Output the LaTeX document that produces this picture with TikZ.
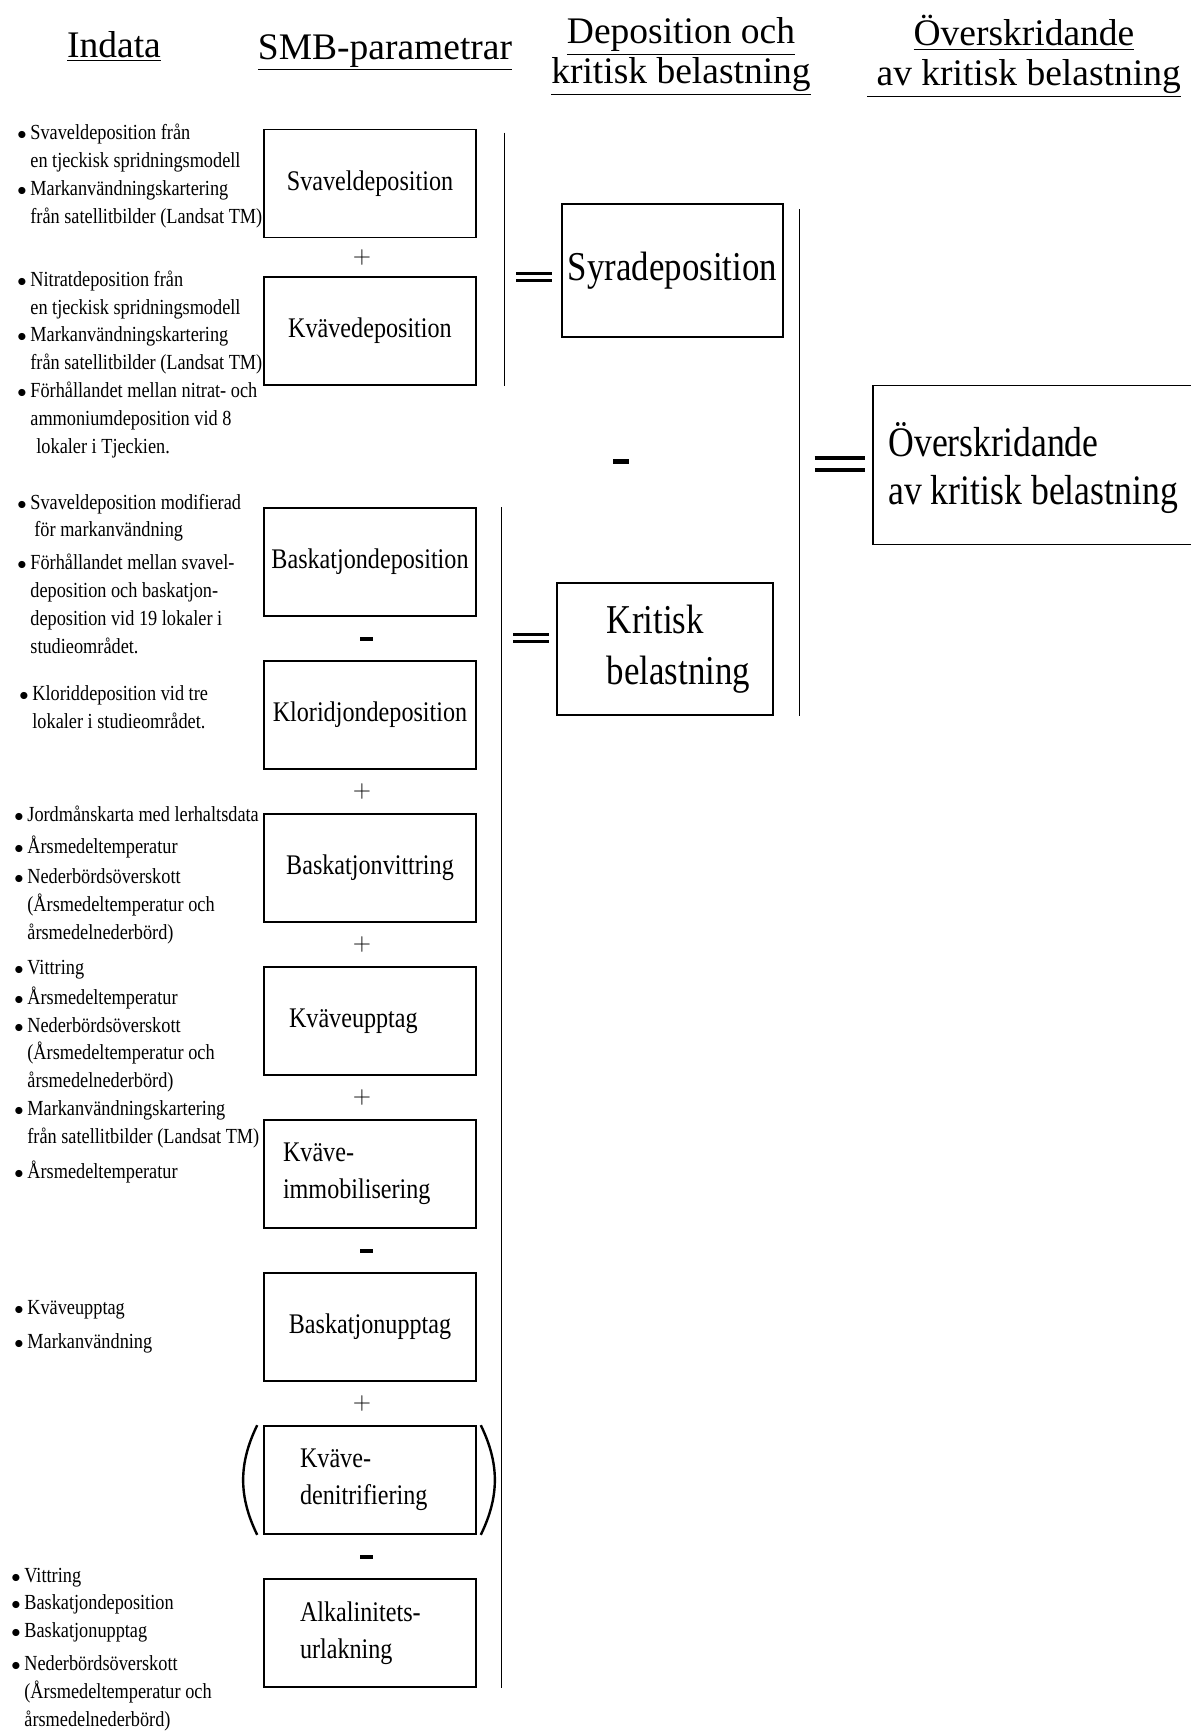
\documentclass[tikz,border=0pt]{standalone}
\usepackage{fontspec}
\setmainfont{Liberation Serif}[FakeStretch=0.85]
\newfontfamily\headfont{Liberation Serif}
\usetikzlibrary{positioning}

\newcommand\bp{\makebox[6.5pt][l]{\fontsize{9}{9}\selectfont$\bullet$}}
\newcommand\ii{\hspace*{6.5pt}}

\begin{document}
\begin{tikzpicture}[x=0.5pt, y=-0.5pt, node distance=76.5pt,
    smb/.style={draw, line width=0.8pt, minimum width=106pt, minimum height=54pt,
      inner sep=2pt, font=\fontsize{14.2}{18.5}\selectfont},
    res/.style={draw, line width=0.8pt, inner sep=2pt, font=\fontsize{20.5}{25.5}\selectfont},
    head/.style={font=\headfont\fontsize{18.75}{20}\selectfont, align=center, inner sep=0pt},
    indata/.style={anchor=base west, align=left, inner sep=0pt,
      font=\fontsize{10.75}{13.9}\selectfont},
    plussign/.style={font=\fontsize{12.5}{12.5}\selectfont, inner sep=0pt, xshift=-4pt},
    minussign/.style={fill, minimum width=6.5pt, minimum height=2pt, inner sep=0pt, xshift=-2pt},
    eqbar/.style={double, double distance=2.2pt, line width=1.6pt},
    vbar/.style={line width=0.6pt},
    paren/.style={line width=1.2pt}]
  \useasboundingbox (0,0) rectangle (1190,1731);

  % rubriker
  \node[head, anchor=base] (h1) at (114,57) {\underline{Indata}};
  \node[head, anchor=base] (h2) at (385,59) {\underline{SMB-parametrar}};
  \node[head, anchor=north] (h3) at (681,17) {\underline{Deposition och}\\\underline{kritisk belastning}};
  \node[head, anchor=north] (h4) at (1024,15) {\underline{Överskridande}\\\underline{\ av kritisk belastning}};

  % SMB-parametrar
  \node[smb] (1) at (370,183.5) {Svaveldeposition};
  \node[smb, node distance=73.75pt, below of=1] (2) {Kvävedeposition};
  \node[smb] (3) at (370,562) {Baskatjondeposition};
  \node[smb, below of=3] (4) {Kloridjondeposition};
  \node[smb, below of=4] (5) {Baskatjonvittring};
  \node[smb, below of=5, align=left, text width=81pt] (6) {Kväveupptag};
  \node[smb, below of=6, align=left, text width=87pt] (7) {Kväve-\\immobilisering};
  \node[smb, below of=7] (8) {Baskatjonupptag};
  \node[smb, below of=8, align=left, text width=70pt] (9) {Kväve-\\denitrifiering};
  \node[smb, below of=9, align=left, text width=70pt] (10) {Alkalinitets-\\urlakning};

  \path (1) -- node[plussign] (s1) {$+$} (2);
  \path (3) -- node[minussign] (s2) {} (4);
  \path (4) -- node[plussign] (s3) {$+$} (5);
  \path (5) -- node[plussign] (s4) {$+$} (6);
  \path (6) -- node[plussign] (s5) {$+$} (7);
  \path (7) -- node[minussign] (s6) {} (8);
  \path (8) -- node[plussign] (s7) {$+$} (9);
  \path (9) -- node[minussign] (s8) {} (10);

  \draw[paren] ([xshift=-3pt]9.north west) to[bend right=26] ([xshift=-3pt]9.south west);
  \draw[paren] ([xshift=2pt]9.north east) to[bend left=26] ([xshift=2pt]9.south east);

  \draw[vbar] ([xshift=14pt,yshift=-2pt]1.north east) -- ([xshift=14pt]2.south east);
  \draw[vbar] ([xshift=12.5pt]3.north east) -- ([xshift=12.5pt]10.south east);

  % deposition och kritisk belastning
  \coordinate (e1) at (534,277);
  \draw[eqbar] ([xshift=-9pt]e1) -- ([xshift=9pt]e1);
  \node[res, minimum width=110.5pt, minimum height=66.5pt] (11) at (672.5,270.5) {Syradeposition};
  \node[minussign, minimum width=8pt, minimum height=2.5pt] (s9) at (625,461) {};
  \coordinate (e2) at (531,638);
  \draw[eqbar] ([xshift=-9pt]e2) -- ([xshift=9pt]e2);
  \node[res, minimum width=108pt, minimum height=66pt, align=left] (12) at (665,649)
    {\hspace*{13.5pt}Kritisk\\\hspace*{13.5pt}belastning};
  \draw[vbar] ([xshift=8pt,yshift=-3pt]11.north east) -- ([xshift=8pt]11.north east |- 12.south);

  % overskridande
  \coordinate (e3) at (839.5,464);
  \draw[eqbar, line width=2pt, double distance=4.2pt] ([xshift=-12.5pt]e3) -- ([xshift=12.5pt]e3);
  \node[anchor=west, align=left, minimum height=79pt, inner xsep=7.5pt,
    font=\fontsize{21}{24}\selectfont] (13) at (873,468) {Överskridande\\av kritisk belastning};
  \draw[line width=0.8pt] ([yshift=1.5pt]13.north east) -- ([yshift=1.5pt]13.north west)
    -- ([yshift=1.5pt]13.south west) -- ([yshift=1.5pt]13.south east);

  % indata
  \node[indata] (i1) at (17,223) {\bp Svaveldeposition från\\
    \ii en tjeckisk spridningsmodell\\
    \bp Markanvändningskartering\\
    \ii från satellitbilder (Landsat TM)};
  \node[indata] (i2) at (17,453) {\bp Nitratdeposition från\\
    \ii en tjeckisk spridningsmodell\\
    \bp Markanvändningskartering\\
    \ii från satellitbilder (Landsat TM)\\
    \bp Förhållandet mellan nitrat- och\\
    \ii ammoniumdeposition vid 8\\
    \ii\hspace*{3pt}lokaler i Tjeckien.};
  \node[indata] (i3) at (17,653) {\bp Svaveldeposition modifierad\\
    \ii\hspace*{2pt}för markanvändning\\[2.5pt]
    \bp Förhållandet mellan svavel-\\
    \ii deposition och baskatjon-\\
    \ii deposition vid 19 lokaler i\\
    \ii studieområdet.};
  \node[indata] (i4) at (19,728) {\bp Kloriddeposition vid tre\\
    \ii lokaler i studieområdet.};
  \node[indata] (i5) at (14,939) {\bp Jordmånskarta med lerhaltsdata\\[2pt]
    \bp Årsmedeltemperatur\\[1pt]
    \bp Nederbördsöverskott\\
    \ii (Årsmedeltemperatur och\\
    \ii årsmedelnederbörd)};
  \node[indata] (i6) at (14,1178) {\bp Vittring\\[1pt]
    \bp Årsmedeltemperatur\\
    \bp Nederbördsöverskott\\
    \ii (Årsmedeltemperatur och\\
    \ii årsmedelnederbörd)\\
    \bp Markanvändningskartering\\
    \ii från satellitbilder (Landsat TM)\\[3.5pt]
    \bp Årsmedeltemperatur};
  \node[indata] (i7) at (14,1348) {\bp Kväveupptag\\[3pt]
    \bp Markanvändning};
  \node[indata] (i8) at (11,1726) {\bp Vittring\\
    \bp Baskatjondeposition\\
    \bp Baskatjonupptag\\[2.5pt]
    \bp Nederbördsöverskott\\
    \ii (Årsmedeltemperatur och\\
    \ii årsmedelnederbörd)};
\end{tikzpicture}
\end{document}
